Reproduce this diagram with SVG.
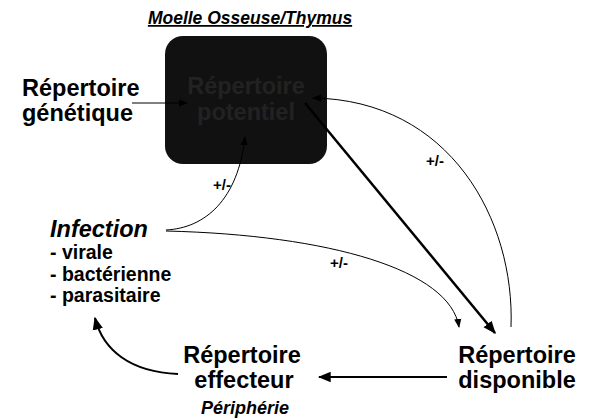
<svg xmlns="http://www.w3.org/2000/svg" width="589" height="419" viewBox="0 0 589 419">
<defs>
<style>
text{font-family:"Liberation Sans",Arial,sans-serif;font-weight:bold;fill:#000}
.big{font-size:23.5px}
.mid{font-size:19.5px}
.it{font-style:italic}
.lbl{font-size:15px}
.c{stroke:#000;fill:none}
.thin{stroke-width:1}
.thick{stroke-width:2}
.heavy{stroke-width:2.5}
</style>
<marker id="ah" viewBox="0 0 10 10" refX="9" refY="5" markerWidth="9" markerHeight="9" markerUnits="userSpaceOnUse" orient="auto"><path d="M0,1 L10,5 L0,9 Z" fill="#000"/></marker>
<marker id="ahb" viewBox="0 0 10 10" refX="9" refY="5" markerWidth="13" markerHeight="13" markerUnits="userSpaceOnUse" orient="auto"><path d="M0,1 L10,5 L0,9 Z" fill="#000"/></marker>
</defs>
<g id="title"><text x="250" y="24" text-anchor="middle" class="it" style="font-size:17.5px;text-decoration:underline">Moelle Osseuse/Thymus</text></g>
<g id="potentiel">
<rect x="165" y="36" width="162" height="128" rx="18" fill="#111"/>
<text x="246" y="94" text-anchor="middle" class="big" style="fill:#222">Répertoire</text>
<text x="246" y="120" text-anchor="middle" class="big" style="fill:#222">potentiel</text>
</g>
<g id="genetique">
<text x="22" y="96" class="big">Répertoire</text>
<text x="22" y="121" class="big">génétique</text>
</g>
<g id="infection">
<text x="50" y="237" class="big it">Infection</text>
<text x="50" y="259" class="mid">- virale</text>
<text x="50" y="281" class="mid">- bactérienne</text>
<text x="50" y="302" class="mid">- parasitaire</text>
</g>
<g id="effecteur">
<text x="242" y="363" text-anchor="middle" class="big">Répertoire</text>
<text x="244" y="388" text-anchor="middle" class="big">effecteur</text>
<text x="245" y="414" text-anchor="middle" class="it" style="font-size:18px">Périphérie</text>
</g>
<g id="disponible">
<text x="517" y="363" text-anchor="middle" class="big">Répertoire</text>
<text x="517" y="388" text-anchor="middle" class="big">disponible</text>
</g>
<g id="connectors">
<path class="c thin" d="M132,103 L187,103" marker-end="url(#ah)"/>
<path class="c thin" d="M166,230 C205,228 238,200 245,137" marker-end="url(#ah)"/>
<path class="c thin" d="M166,231 C330,235 450,270 459,327" marker-end="url(#ah)"/>
<path class="c heavy" d="M305,103 L495,333" marker-end="url(#ahb)"/>
<path class="c thin" d="M511,327 C515,220 450,100 313,98" marker-end="url(#ah)"/>
<path class="c thick" d="M447,377 L319,377" marker-end="url(#ahb)"/>
<path class="c thick" d="M178,374 C130,372 103,350 95,318" marker-end="url(#ahb)"/>
<text x="222" y="190" text-anchor="middle" class="lbl">+/-</text>
<text x="339" y="268" text-anchor="middle" class="lbl">+/-</text>
<text x="435" y="166" text-anchor="middle" class="lbl">+/-</text>
</g>
</svg>
